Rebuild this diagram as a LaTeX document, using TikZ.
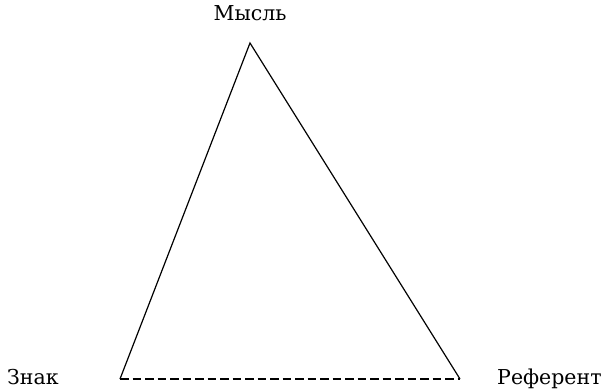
\documentclass[tikz,border=0pt]{standalone}
\usepackage{fontspec}
\setmainfont{DejaVu Serif}

\begin{document}
\begin{tikzpicture}[x=1pt,y=1pt]
      % Frame of the picture
      \useasboundingbox (0,0) rectangle (602,389);
      \tikzset{lbl/.style={font=\fontsize{20.5}{24}\selectfont, inner sep=0pt}}

      % Corners of the triangle
      \coordinate (thought) at (250,346);
      \coordinate (sign) at (120,10);
      \coordinate (referent) at (460,10);

      % Labels
      \node[lbl, anchor=base] (thoughtlbl) at (250,368) {Мысль};
      \node[lbl, anchor=base west] (signlbl) at (7,5) {Знак};
      \node[lbl, anchor=base west] (referentlbl) at (497,5) {Референт};

      % Sides
      \draw[line width=1.2pt] (sign) -- (thought) -- (referent);
      \draw[line width=1.2pt, dash pattern=on 8.5pt off 4pt] (sign) -- (referent);
    \end{tikzpicture}
\end{document}
